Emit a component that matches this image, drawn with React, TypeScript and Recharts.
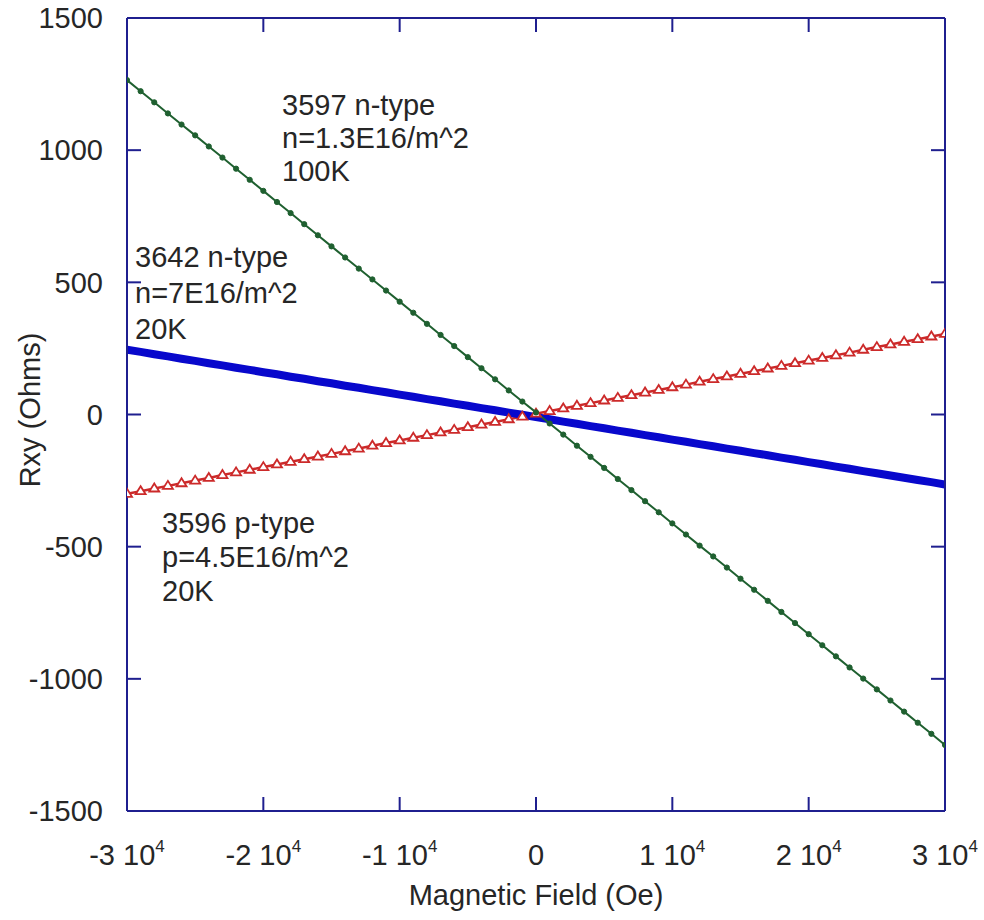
import React from "react";
import { LineChart, Line, XAxis, YAxis } from "recharts";

// magnetic field sweep (Oe)
const field = [
  -30000, -29000, -28000, -27000, -26000, -25000, -24000, -23000, -22000, -21000,
  -20000, -19000, -18000, -17000, -16000, -15000, -14000, -13000, -12000, -11000,
  -10000, -9000, -8000, -7000, -6000, -5000, -4000, -3000, -2000, -1000,
  0, 1000, 2000, 3000, 4000, 5000, 6000, 7000, 8000, 9000,
  10000, 11000, 12000, 13000, 14000, 15000, 16000, 17000, 18000, 19000,
  20000, 21000, 22000, 23000, 24000, 25000, 26000, 27000, 28000, 29000, 30000,
];

// Rxy (Ohms) for each sample
const rxy3597 = [
  1265, 1223, 1181, 1139, 1097, 1056, 1014, 972, 930, 888,
  846, 804, 762, 720, 678, 636, 594, 552, 511, 469,
  427, 385, 343, 301, 259, 217, 175, 133, 91, 49,
  8, -34, -76, -118, -160, -202, -244, -286, -328, -370,
  -412, -454, -496, -537, -579, -621, -663, -705, -747, -789,
  -831, -873, -915, -957, -999, -1040, -1082, -1124, -1166, -1208, -1250,
];
const rxy3642 = [
  245, 237, 228, 220, 211, 203, 194, 186, 177, 169,
  160, 152, 143, 135, 126, 118, 109, 101, 92, 84,
  75, 67, 58, 50, 41, 33, 24, 16, 7, -1,
  -10, -18, -27, -35, -44, -52, -61, -69, -78, -86,
  -95, -103, -112, -120, -129, -137, -146, -154, -163, -171,
  -180, -188, -197, -205, -214, -222, -231, -239, -248, -256, -265,
];
const rxy3596 = [
  -300, -290, -280, -270, -260, -250, -240, -229, -219, -209,
  -199, -189, -179, -169, -159, -149, -139, -129, -118, -108,
  -98, -88, -78, -68, -58, -48, -38, -28, -18, -8,
  3, 13, 23, 33, 43, 53, 63, 73, 83, 93,
  103, 113, 124, 134, 144, 154, 164, 174, 184, 194,
  204, 214, 224, 234, 245, 255, 265, 275, 285, 295, 305,
];

const xTicks = [-30000, -20000, -10000, 0, 10000, 20000, 30000];
const yTicks = [-1500, -1000, -500, 0, 500, 1000, 1500];

const data = field.map((b, i) => ({
  b,
  s3597: rxy3597[i],
  s3642: rxy3642[i],
  s3596: rxy3596[i],
}));

const FONT = '"Liberation Sans", Arial, sans-serif';
const AXIS = "#1f1f8f";
const INK = "#262626";

const FieldTick = (props: any) => {
  const { x, y, payload } = props;
  const v = payload.value;
  if (v === 0) {
    return (
      <text x={x} y={y} textAnchor="middle" fontSize={29} fontFamily={FONT} fill={INK}>
        0
      </text>
    );
  }
  return (
    <text x={x} y={y} textAnchor="middle" fontSize={29} fontFamily={FONT} fill={INK}>
      {`${v / 10000} 10`}
      <tspan fontSize={17} dy={-13}>
        4
      </tspan>
    </text>
  );
};

const Triangle = (props: any) => {
  const { cx, cy, index } = props;
  if (cx == null || cy == null) return <g key={index} />;
  return (
    <polygon
      key={index}
      points={`${cx - 5},${cy + 3} ${cx + 5},${cy + 3} ${cx},${cy - 5}`}
      fill="#ffffff"
      stroke="#cc2a2a"
      strokeWidth={1.8}
    />
  );
};

const Note = ({ x, y, lines, gap }: { x: number; y: number; lines: string[]; gap: number }) => (
  <g>
    {lines.map((t, i) => (
      <text key={i} x={x} y={y + i * gap} fontSize={29} fontFamily={FONT} fill={INK}>
        {t}
      </text>
    ))}
  </g>
);

export default function App() {
  return (
    <div style={{ position: "absolute", left: 0, top: 0, background: "#fff" }}>
      <LineChart
        width={984}
        height={920}
        data={data}
        margin={{ top: 8, right: 29, bottom: 49, left: 47 }}
      >
        <XAxis
          dataKey="b"
          type="number"
          domain={[-30000, 30000]}
          ticks={xTicks}
          allowDataOverflow
          height={60}
          tickSize={-14}
          tickMargin={68}
          tick={<FieldTick />}
          stroke={AXIS}
          axisLine={{ stroke: AXIS, strokeWidth: 2 }}
          tickLine={{ stroke: AXIS, strokeWidth: 2 }}
        />
        {/* mirrored frame on top and right, same scales */}
        <XAxis
          xAxisId="top"
          dataKey="b"
          orientation="top"
          type="number"
          domain={[-30000, 30000]}
          ticks={xTicks}
          allowDataOverflow
          height={10}
          tickSize={-14}
          tickFormatter={() => ""}
          axisLine={{ stroke: AXIS, strokeWidth: 2 }}
          tickLine={{ stroke: AXIS, strokeWidth: 2 }}
        />
        <YAxis
          type="number"
          domain={[-1500, 1500]}
          ticks={yTicks}
          allowDataOverflow
          width={80}
          tickSize={-14}
          tickMargin={38}
          tick={{ fontSize: 29, fontFamily: FONT, fill: INK }}
          axisLine={{ stroke: AXIS, strokeWidth: 2 }}
          tickLine={{ stroke: AXIS, strokeWidth: 2 }}
        />
        <YAxis
          yAxisId="right"
          orientation="right"
          type="number"
          domain={[-1500, 1500]}
          ticks={yTicks}
          allowDataOverflow
          width={10}
          tickSize={-14}
          tickFormatter={() => ""}
          axisLine={{ stroke: AXIS, strokeWidth: 2 }}
          tickLine={{ stroke: AXIS, strokeWidth: 2 }}
        />

        <Line
          xAxisId="top"
          yAxisId="right"
          dataKey="s3596"
          stroke="#cc2a2a"
          strokeWidth={2.5}
          dot={Triangle}
          isAnimationActive={false}
        />
        <Line
          dataKey="s3642"
          stroke="#0808cc"
          strokeWidth={8}
          dot={false}
          isAnimationActive={false}
        />
        <Line
          dataKey="s3597"
          stroke="#1f6030"
          strokeWidth={2}
          dot={{ r: 2.6, fill: "#1f6030", stroke: "#1f6030", strokeWidth: 1 }}
          isAnimationActive={false}
        />

        <text
          x={30}
          y={410}
          transform="rotate(-90 30 410)"
          textAnchor="middle"
          dominantBaseline="central"
          fontSize={29}
          fontFamily={FONT}
          fill={INK}
        >
          Rxy (Ohms)
        </text>
        <text x={536} y={905} textAnchor="middle" fontSize={29} fontFamily={FONT} fill={INK}>
          Magnetic Field (Oe)
        </text>

        <Note x={282} y={115} gap={33} lines={["3597 n-type", "n=1.3E16/m^2", "100K"]} />
        <Note x={135} y={267} gap={36} lines={["3642 n-type", "n=7E16/m^2", "20K"]} />
        <Note x={162} y={533} gap={34} lines={["3596 p-type", "p=4.5E16/m^2", "20K"]} />
      </LineChart>
    </div>
  );
}
